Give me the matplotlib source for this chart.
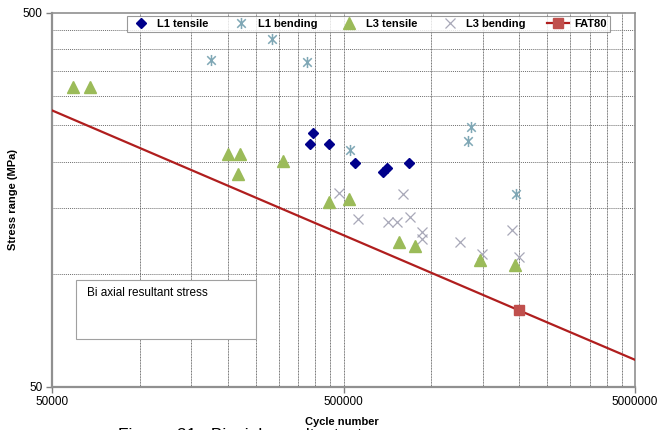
import matplotlib
matplotlib.use('Agg')
import matplotlib.pyplot as plt
from matplotlib.path import Path
from matplotlib.patches import Rectangle

plt.rcParams['font.family'] = ['Liberation Sans', 'DejaVu Sans']

# data
l1_tens_n = [384000, 394000, 447000, 547000, 685000, 703000, 839000]
l1_tens_s = [223, 238, 223, 198, 188, 192, 198]

l1_bend_n = [175600, 283600, 374900, 526000, 1368000, 1340000, 1953000]
l1_bend_s = [374, 425, 369, 215, 247, 227, 164]

l3_tens_n = [59150, 67500, 200800, 220800, 217000, 310000, 446000, 522000,
             775000, 880000, 1466000, 1937000]
l3_tens_s = [316, 316, 209.5, 209.5, 185, 201, 156, 159, 122, 119, 109, 105.6]

l3_bend_n = [482600, 802000, 562000, 712000, 765000, 845000, 927000, 927000,
             1254000, 1490000, 1888000, 2000000]
l3_bend_s = [164.5, 164, 140, 137.6, 137.6, 142, 129.4, 124, 121.8, 113.2,
             131.2, 111]

fat_n = [50000, 2000000, 5000000]
fat_s = [274, 80, 59]

# Excel style star marker: x plus vertical bar
star = Path([(-1, -1), (1, 1), (-1, 1), (1, -1), (0, -1.3), (0, 1.3)],
            [Path.MOVETO, Path.LINETO, Path.MOVETO, Path.LINETO,
             Path.MOVETO, Path.LINETO])

fig = plt.figure(figsize=(6.7, 4.3), dpi=100)
ax = fig.add_axes([0.0776, 0.1007, 0.8702, 0.8698])

ax.plot(l1_tens_n, l1_tens_s, linestyle='none', marker='D', markersize=5,
        color='#00008B', label='L1 tensile', zorder=4)
ax.plot(l1_bend_n, l1_bend_s, linestyle='none', marker=star, markersize=8,
        markerfacecolor='none', markeredgecolor='#7FA7B5', markeredgewidth=1.1,
        label='L1 bending', zorder=4)
ax.plot(l3_tens_n, l3_tens_s, linestyle='none', marker='^', markersize=8,
        color='#9BBB59', label='L3 tensile', zorder=4)
ax.plot(l3_bend_n, l3_bend_s, linestyle='none', marker='x', markersize=7,
        markeredgecolor='#A8A8B8', markeredgewidth=0.9,
        label='L3 bending', zorder=3)
ax.plot(fat_n, fat_s, color='#B01E1E', linewidth=1.6, marker='s',
        markersize=7, markevery=[1], markerfacecolor='#C0504D',
        markeredgecolor='#C0504D', label='FAT80', zorder=3)

ax.set_xscale('log')
ax.set_yscale('log')
ax.set_xlim(50000, 5000000)
ax.set_ylim(50, 500)

ax.set_xticks([50000, 500000, 5000000])
ax.set_xticklabels(['50000', '500000', '5000000'])
ax.set_yticks([50, 500])
ax.set_yticklabels(['50', '500'])
ax.minorticks_off()
ax.tick_params(labelsize=8.5, color='#808080', length=4, width=1, pad=3)

# grid lines like Excel minor gridlines
vgrid = [k * 50000 for k in range(2, 10)] + [k * 500000 for k in range(1, 10)]
hgrid = [k * 50 for k in range(2, 10)]
for v in vgrid:
    ax.axvline(v, color='#707070', linewidth=0.7, linestyle=(0, (1, 0.6)), zorder=1)
for h in hgrid:
    ax.axhline(h, color='#707070', linewidth=0.7, linestyle=(0, (1, 1)), zorder=1)

for s in ax.spines.values():
    s.set_color('#909090')
    s.set_linewidth(1.2)
ax.spines['left'].set_linewidth(1.6)
ax.spines['bottom'].set_linewidth(1.6)

ax.set_xlabel('Cycle number', fontsize=8, fontweight='bold')
ax.xaxis.set_label_coords(0.497, -0.08)
ax.set_ylabel('Stress range (MPa)', fontsize=8, fontweight='bold')
ax.yaxis.set_label_coords(-0.058, 0.5)

leg = ax.legend(loc='upper right', bbox_to_anchor=(0.957, 0.99), ncol=5,
                fontsize=8, frameon=True, fancybox=False, borderpad=0.25,
                handlelength=2.0, handletextpad=0.5, columnspacing=1.9,
                borderaxespad=0)
leg.get_frame().set_edgecolor('#808080')
leg.get_frame().set_linewidth(0.8)
for t in leg.get_texts():
    t.set_fontweight('bold')

# text box
fig.patches.append(Rectangle((76 / 670, 1 - 339 / 430), 180 / 670, 59 / 430,
                             transform=fig.transFigure, facecolor='white',
                             edgecolor='#A0A0A0', linewidth=0.8, zorder=5))
fig.text(87 / 670, 1 - 293 / 430, 'Bi axial resultant stress', fontsize=8.5,
         va='center', ha='left', zorder=6)

# caption cut off at the bottom
fig.text(118 / 670, 1 - 428 / 430, 'Figure  21:  Biaxial  resultant  stress',
         fontsize=12.5, ha='left', va='top')

fig.savefig('out.png', dpi=100)
